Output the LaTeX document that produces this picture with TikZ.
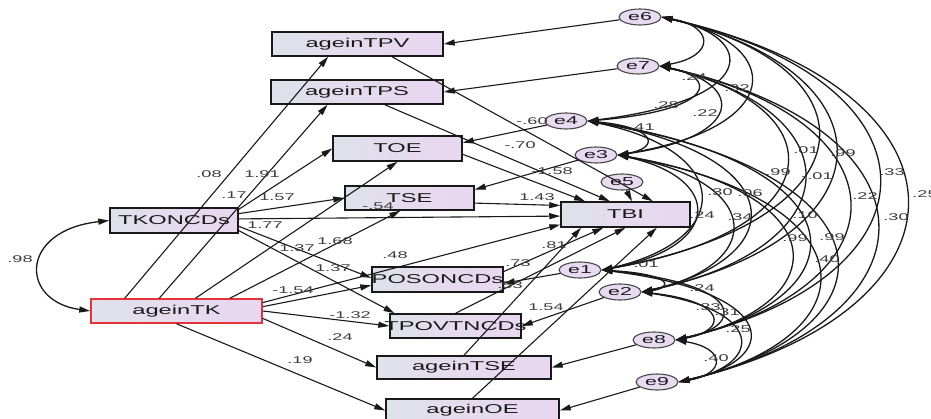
\documentclass[tikz,border=0pt]{standalone}
\usepackage{fontspec}
\setmainfont[FakeStretch=1.85]{Liberation Sans}
\usetikzlibrary{arrows.meta,shapes.geometric,calc}
\definecolor{boxL}{RGB}{223,225,235}
\definecolor{boxR}{RGB}{233,214,240}
\definecolor{errF}{RGB}{232,218,240}
\definecolor{ink}{RGB}{25,25,25}
\definecolor{hot}{RGB}{228,52,58}
\tikzset{
  var/.style={rectangle, draw=ink, line width=1.5pt, left color=boxL, right color=boxR,
    minimum height=24pt, inner sep=0pt, font=\fontsize{12.8}{14}\selectfont, text=ink},
  err/.style={ellipse, draw=ink!80, line width=1.1pt, fill=errF, minimum width=42pt,
    minimum height=16pt, inner sep=0pt, font=\fontsize{11.5}{13}\selectfont, text=ink},
  reg/.style={draw=ink, line width=1.1pt, -{Triangle[length=11pt,width=6pt]}},
  cov/.style={draw=ink, line width=1.3pt, {Triangle[length=11pt,width=6pt]}-{Triangle[length=11pt,width=6pt]}},
  lab/.style={font=\fontsize{9.8}{11}\selectfont, text=ink!85, inner sep=0pt},
}
% covariance arc between two error terms, bulging to the right
\newcommand\covpair[2]{%
  \draw[cov] let \p1=(#1.east), \p2=(#2.east),
    \n1={max(\x1,\x2)+0.8*((\y1)-(\y2))+14pt},
    \n2={0.2*((\y1)-(\y2))} in
    (\p1) .. controls ({\n1},{(\y1)-(\n2)}) and ({\n1},{(\y2)+(\n2)}) .. (\p2);}
\begin{document}
\begin{tikzpicture}[x=1pt,y=-1pt]
\useasboundingbox (0,0) rectangle (931,419);

% observed variables
\node[var, minimum width=171pt] (TPV) at (357.5,44) {ageinTPV};
\node[var, minimum width=172pt] (TPS) at (357,92) {ageinTPS};
\node[var, minimum width=129pt, minimum height=25pt] (TOE) at (397.5,148.5) {TOE};
\node[var, minimum width=129pt] (TSE) at (409.5,198) {TSE};
\node[var, minimum width=128pt, minimum height=25pt] (KON) at (174,220.5) {TKONCDs};
\node[var, minimum width=129pt, minimum height=25pt] (TBI) at (625.5,214.5) {TBI};
\node[var, minimum width=171pt, draw=hot] (TK) at (176.5,311) {ageinTK};
\node[var, minimum width=131pt, minimum height=25pt] (POS) at (437.5,279.5) {\makebox[0pt]{POSONCDs}};
\node[var, minimum width=131pt] (POV) at (455.5,326) {\makebox[0pt]{TPOVTNCDs}};
\node[var, minimum width=174pt, minimum height=23pt] (ATSE) at (464,367.5) {ageinTSE};
\node[var, minimum width=173pt, minimum height=23pt] (AOE) at (472.5,410.5) {ageinOE};

% error terms
\node[err] (e6) at (640,17) {e6};
\node[err] (e7) at (638,66) {e7};
\node[err] (e4) at (566,121) {e4};
\node[err] (e3) at (596,155) {e3};
\node[err] (e5) at (622,182) {e5};
\node[err] (e1) at (580,270) {e1};
\node[err] (e2) at (620,292) {e2};
\node[err] (e8) at (654,340) {e8};
\node[err] (e9) at (657,382) {e9};

% paths from ageinTK
\draw[reg] ($(TK.north west)!.2!(TK.north east)$) -- ($(TPV.south west)!.33!(TPV.south east)$);
\draw[reg] ($(TK.north west)!.4!(TK.north east)$) -- ($(TPS.south west)!.33!(TPS.south east)$);
\draw[reg] ($(TK.north west)!.61!(TK.north east)$) -- (TOE.south);
\draw[reg] ($(TK.north west)!.81!(TK.north east)$) -- ($(TSE.south west)!.43!(TSE.south east)$);
\draw[reg] ($(TK.north east)!.17!(TK.south east)$) -- ($(TBI.north west)!.88!(TBI.south west)$);
\draw[reg] ($(TK.north east)!.33!(TK.south east)$) -- ($(POS.north west)!.72!(POS.south west)$);
\draw[reg] ($(TK.north east)!.5!(TK.south east)$) -- (POV.west);
\draw[reg] ($(TK.north east)!.79!(TK.south east)$) -- (ATSE.west);
\draw[reg] (TK.south) -- (AOE.west);

% paths from TKONCDs
\draw[reg] ($(KON.north east)!.08!(KON.south east)$) -- (TOE.west);
\draw[reg] ($(KON.north east)!.24!(KON.south east)$) -- (TSE.west);
\draw[reg] ($(KON.north east)!.44!(KON.south east)$) -- ($(TBI.north west)!.56!(TBI.south west)$);
\draw[reg] ($(KON.north east)!.72!(KON.south east)$) -- ($(POS.north west)!.44!(POS.south west)$);
\draw[reg] ($(KON.north east)!.88!(KON.south east)$) -- ($(POV.north west)!.04!(POV.north east)$);

% paths into TBI
\draw[reg] ($(TPV.south west)!.7!(TPV.south east)$) -- ($(TBI.north west)!.71!(TBI.north east)$);
\draw[reg] ($(TPS.south west)!.66!(TPS.south east)$) -- ($(TBI.north west)!.38!(TBI.north east)$);
\draw[reg] ($(TOE.north east)!.72!(TOE.south east)$) -- ($(TBI.north west)!.19!(TBI.north east)$);
\draw[reg] ($(TSE.north east)!.7!(TSE.south east)$) -- ($(TBI.north west)!.16!(TBI.south west)$);
\draw[reg] ($(POS.north east)!.2!(POS.south east)$) -- ($(TBI.south west)!.33!(TBI.south east)$);
\draw[reg] (POV.north) -- ($(TBI.south west)!.5!(TBI.south east)$);
\draw[reg] (ATSE.north) -- ($(TBI.south west)!.16!(TBI.south east)$);
\draw[reg] (AOE.north) -- ($(TBI.south west)!.74!(TBI.south east)$);

% error terms to their variables
\draw[reg] (e6) -- (TPV.east);
\draw[reg] (e7) -- (TPS.east);
\draw[reg] (e4) -- ($(TOE.north east)!.28!(TOE.south east)$);
\draw[reg] (e3) -- ($(TSE.north east)!.17!(TSE.south east)$);
\draw[reg] (e5) -- ($(TBI.north west)!.55!(TBI.north east)$);
\draw[reg] (e1) -- ($(POS.north east)!.64!(POS.south east)$);
\draw[reg] (e2) -- (POV.east);
\draw[reg] (e8) -- (ATSE.east);
\draw[reg] (e9) -- (AOE.east);

% covariance of the exogenous variables
\draw[cov] (KON.west) .. controls +(-90,10) and +(-71,-10) .. (TK.west);

% covariances among the error terms
\covpair{e6}{e7}\covpair{e6}{e4}\covpair{e6}{e3}\covpair{e6}{e1}
\covpair{e6}{e2}\covpair{e6}{e8}\covpair{e6}{e9}
\covpair{e7}{e4}\covpair{e7}{e3}\covpair{e7}{e1}\covpair{e7}{e2}
\covpair{e7}{e8}\covpair{e7}{e9}
\covpair{e4}{e3}\covpair{e4}{e1}\covpair{e4}{e2}\covpair{e4}{e8}\covpair{e4}{e9}
\covpair{e3}{e1}\covpair{e3}{e2}\covpair{e3}{e8}\covpair{e3}{e9}
\covpair{e1}{e2}\covpair{e1}{e8}\covpair{e1}{e9}
\covpair{e2}{e8}\covpair{e2}{e9}
\covpair{e8}{e9}

% estimates on the paths
\node[lab] (l1) at (20,259) {.98};
\node[lab] (l2) at (209,174) {.08};
\node[lab] (l3) at (262,174) {1.91};
\node[lab] (l4) at (234,195) {.17};
\node[lab] (l5) at (277,197) {1.57};
\node[lab] (l6) at (265,225) {1.77};
\node[lab] (l7) at (378,206) {-.54};
\node[lab] (l8) at (297,248) {1.37};
\node[lab] (l9) at (335,241) {1.68};
\node[lab] (l10) at (395,255) {.48};
\node[lab] (l11) at (333,268) {1.37};
\node[lab] (l12) at (293,290) {-1.54};
\node[lab] (l13) at (350,315) {-1.32};
\node[lab] (l14) at (340,337) {.24};
\node[lab] (l15) at (300,360) {.19};
\node[lab] (l16) at (532,121) {-.60};
\node[lab] (l17) at (520,145) {-.70};
\node[lab] (l18) at (552,171) {-1.58};
\node[lab] (l19) at (537,197) {1.43};
\node[lab] (l20) at (554,245) {.81};
\node[lab] (l21) at (518,263) {.73};
\node[lab] (l22) at (510,285) {.53};
\node[lab] (l23) at (546,307) {1.54};
% estimates on the covariances
\node[lab] (c1) at (694,77) {.24};
\node[lab] (c2) at (737,88) {.32};
\node[lab] (c3) at (666,105) {.28};
\node[lab] (c4) at (705,113) {.22};
\node[lab] (c5) at (642,127) {.41};
\node[lab] (c6) at (806,150) {.01};
\node[lab] (c7) at (843,153) {.99};
\node[lab] (c8) at (778,172) {.99};
\node[lab] (c9) at (817,176) {-.01};
\node[lab] (c10) at (892,172) {.33};
\node[lab] (c11) at (865,196) {.22};
\node[lab] (c12) at (925,194) {.25};
\node[lab] (c13) at (720,192) {.30};
\node[lab] (c14) at (750,193) {.06};
\node[lab] (c15) at (702,215) {.24};
\node[lab] (c16) at (740,217) {.34};
\node[lab] (c17) at (805,215) {.10};
\node[lab] (c18) at (896,217) {.30};
\node[lab] (c19) at (795,238) {.99};
\node[lab] (c20) at (832,237) {.99};
\node[lab] (c21) at (827,259) {.40};
\node[lab] (c22) at (646,264) {.01};
\node[lab] (c23) at (702,288) {.24};
\node[lab] (c24) at (708,307) {.33};
\node[lab] (c25) at (727,312) {.31};
\node[lab] (c26) at (738,329) {.25};
\node[lab] (c27) at (716,358) {.40};
\end{tikzpicture}
\end{document}
